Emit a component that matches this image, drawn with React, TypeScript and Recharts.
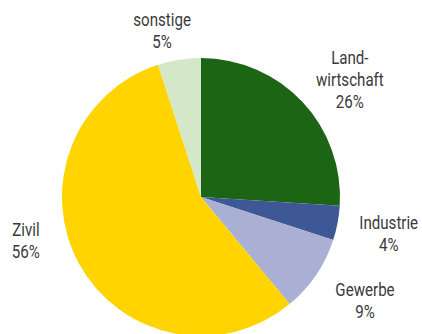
import React from "react";
import { PieChart, Pie, Cell } from "recharts";

const categories = ["Land-\nwirtschaft", "Industrie", "Gewerbe", "Zivil", "sonstige"];
const shares = [26, 4, 9, 56, 5];
const colors = ["#1b6515", "#3d5894", "#a9b0d3", "#ffd400", "#d4e8c9"];

// label nudges (px) from the default position on the mid angle
const labelNudge: Record<string, [number, number]> = {
  "Land-\nwirtschaft": [14, 9],
  Industrie: [6, 2],
  Gewerbe: [11, 0],
  Zivil: [-13, -46],
  sonstige: [-10, 16],
};

const data = categories.map((name, i) => ({ name, value: shares[i] }));

const RADIAN = Math.PI / 180;
const LINE_H = 22;

function renderLabel(props: any) {
  const { cx, cy, midAngle, outerRadius, name, value } = props;
  const r = outerRadius + 46;
  const [nx, ny] = labelNudge[name] ?? [0, 0];
  const x = cx + r * Math.cos(-midAngle * RADIAN) + nx;
  const y = cy + r * Math.sin(-midAngle * RADIAN) + ny;
  const lines = [...String(name).split("\n"), `${value}%`];
  const top = y - ((lines.length - 1) * LINE_H) / 2;
  // condensed look: squeeze Roboto horizontally around the label centre
  return (
    <g transform={`translate(${x},0) scale(0.84,1) translate(${-x},0)`}>
      <text
        x={x}
        y={top}
        textAnchor="middle"
        dominantBaseline="central"
        fill="#3a3a3a"
        fontSize={18}
        fontFamily="Roboto, sans-serif"
      >
        {lines.map((l, i) => (
          <tspan key={i} x={x} y={top + i * LINE_H}>
            {l}
          </tspan>
        ))}
      </text>
    </g>
  );
}

export default function App() {
  return (
    <div style={{ position: "fixed", left: 0, top: 0, width: 422, height: 334, background: "#fff" }}>
      <PieChart width={422} height={334} margin={{ top: 0, right: 0, bottom: 0, left: 0 }}>
        <Pie
          data={data}
          dataKey="value"
          nameKey="name"
          cx={201}
          cy={197}
          outerRadius={139}
          startAngle={90}
          endAngle={-270}
          stroke="none"
          label={renderLabel}
          labelLine={false}
          isAnimationActive={false}
        >
          {data.map((d, i) => (
            <Cell key={d.name} fill={colors[i]} />
          ))}
        </Pie>
      </PieChart>
    </div>
  );
}
